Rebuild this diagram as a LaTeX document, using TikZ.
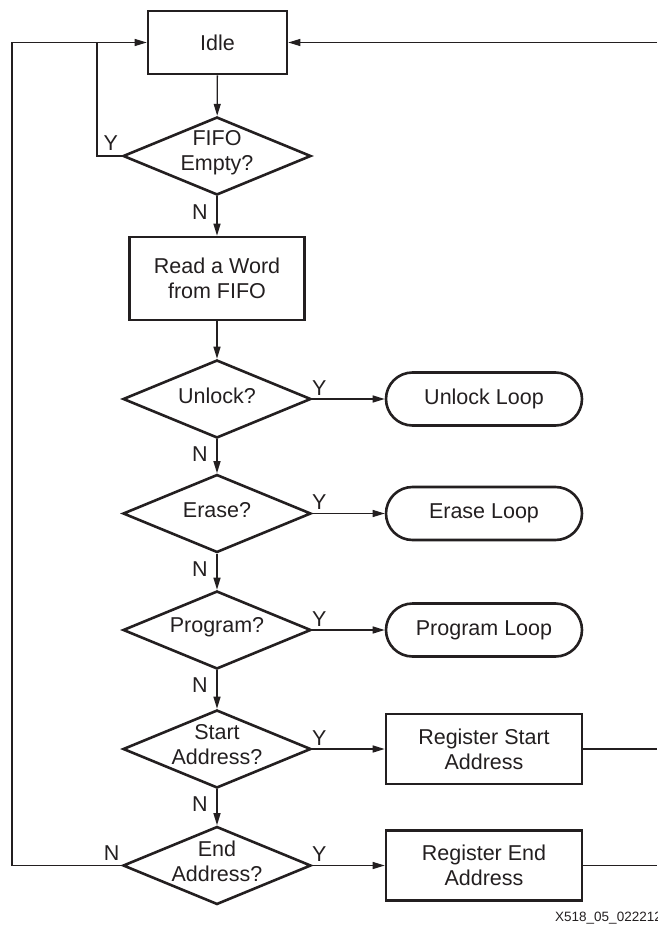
\documentclass[tikz,border=0pt]{standalone}
\usepackage{fontspec}
\setmainfont{Liberation Sans}
\usetikzlibrary{shapes.geometric,shapes.misc,arrows.meta,calc}
\definecolor{ink}{HTML}{231F20}
\begin{document}
\begin{tikzpicture}[x=1pt,y=-1pt,
  every node/.style={text=ink, font=\fontsize{21.5}{25}\selectfont},
  every label/.style={align=center, inner sep=0pt, yshift=3pt},
  box/.style={draw=ink, line width=2.6pt, rectangle, align=center, inner sep=0pt},
  decision/.style={draw=ink, line width=2.6pt, diamond, minimum width=188pt,
    minimum height=78pt, inner sep=0pt},
  loopbox/.style={draw=ink, line width=2.6pt, rounded rectangle,
    minimum width=196pt, minimum height=53pt, inner sep=0pt},
  conn/.style={draw=ink, line width=1.3pt},
  flow/.style={conn, -{Triangle[length=12pt,width=7pt]}},
  yn/.style={inner sep=0pt},
  tag/.style={inner sep=0pt, anchor=base west, font=\fontsize{13.5}{15}\selectfont}
]
\useasboundingbox (0,0) rectangle (657,928);

% main column
\node[box, minimum width=139pt, minimum height=63pt] (idle) at (217.5,42.5) {Idle};
\node[decision, label={center:{FIFO\\Empty?}}] (fifo) at (217,156) {};
\node[box, minimum width=175pt, minimum height=83pt] (read) at (217,278.5) {Read a Word\\from FIFO};
\node[decision, label={center:{Unlock?}}] (unlock) at (217,399) {};
\node[decision, label={center:{Erase?}}] (erase) at (217,513.5) {};
\node[decision, label={center:{Program?}}] (program) at (217,630) {};
\node[decision, label={[yshift=1pt]center:{Start\\Address?}}] (start) at (217,749) {};
\node[decision, label={[yshift=1pt]center:{End\\Address?}}] (endaddr) at (217,865.5) {};

% action column
\node[loopbox] (uloop) at (484,399) {Unlock Loop};
\node[loopbox] (eloop) at (484,513.5) {Erase Loop};
\node[loopbox] (ploop) at (484,630) {Program Loop};
\node[box, minimum width=196pt, minimum height=70pt] (rstart) at (484,749) {Register Start\\Address};
\node[box, minimum width=196pt, minimum height=70pt] (rend) at (484,865.5) {Register End\\Address};

% helper points for the return paths
\coordinate (jn) at (97,42.5);
\coordinate (outer) at (12,42.5);
\coordinate (redge) at (657,0);

% vertical flow
\draw[flow] (idle) -- (fifo);
\draw[flow] (fifo) -- (read);
\draw[flow] (read) -- (unlock);
\draw[flow] (unlock) -- (erase);
\draw[flow] (erase) -- (program);
\draw[flow] (program) -- (start);
\draw[flow] (start) -- (endaddr);

% yes branches
\draw[flow] (unlock.east) -- (uloop);
\draw[flow] (erase.east) -- (eloop);
\draw[flow] (program.east) -- (ploop);
\draw[flow] (start.east) -- (rstart);
\draw[flow] (endaddr.east) -- (rend);

% return paths to Idle
\draw[flow] (fifo.west) -| (jn) -- (idle.west);
\draw[conn] (endaddr.west) -| (outer) -- (jn);
\draw[flow] (idle.east -| redge) -- (idle.east);
\draw[conn] (rstart.east) -- (rstart.east -| redge);
\draw[conn] (rend.east) -- (rend.east -| redge);

% branch labels
\node[yn] (yfifo) at ($(fifo.west)+(-11,-13)$) {Y};
\node[yn] (nfifo) at ($(fifo.south)+(-17,16)$) {N};
\node[yn] (yunlock) at ($(unlock.east)+(7,-11)$) {Y};
\node[yn] (nunlock) at ($(unlock.south)+(-17,15)$) {N};
\node[yn] (yerase) at ($(erase.east)+(7,-11)$) {Y};
\node[yn] (nerase) at ($(erase.south)+(-17,15)$) {N};
\node[yn] (yprogram) at ($(program.east)+(7,-11)$) {Y};
\node[yn] (nprogram) at ($(program.south)+(-17,15)$) {N};
\node[yn] (ystart) at ($(start.east)+(7,-11)$) {Y};
\node[yn] (nstart) at ($(start.south)+(-17,15)$) {N};
\node[yn] (yend) at ($(endaddr.east)+(7,-11)$) {Y};
\node[yn] (nend) at ($(endaddr.west)+(-10,-12)$) {N};

% figure tag
\node[tag] (figtag) at (555,921) {X518\_05\_022212};
\end{tikzpicture}
\end{document}
